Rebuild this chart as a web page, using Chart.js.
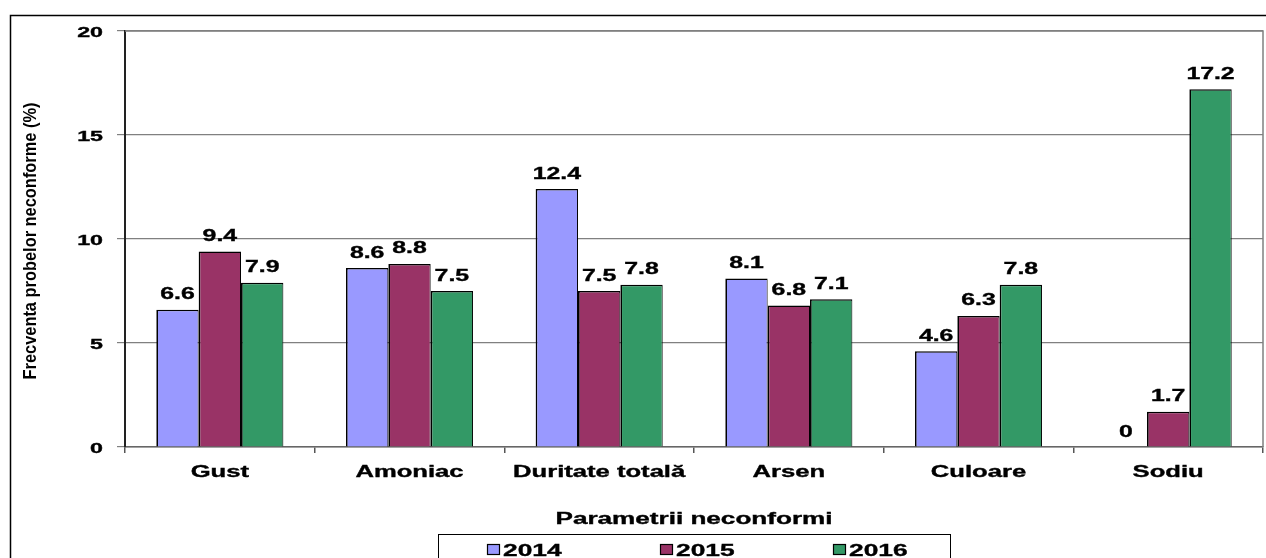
<!DOCTYPE html>
<html>
<head>
<meta charset="utf-8">
<script src="https://cdn.jsdelivr.net/npm/chart.js@4/dist/chart.umd.min.js"></script>
<style>
  body { margin: 0; background: #fff; }
  canvas { display: block; }
</style>
</head>
<body>
<canvas id="grafica" width="1266" height="558"></canvas>
<script>
var categorii = ["Gust", "Amoniac", "Duritate totală", "Arsen", "Culoare", "Sodiu"];
var ani = ["2014", "2015", "2016"];
var valori2014 = [6.6, 8.6, 12.4, 8.1, 4.6, 0];
var valori2015 = [9.4, 8.8, 7.5, 6.8, 6.3, 1.7];
var valori2016 = [7.9, 7.5, 7.8, 7.1, 7.8, 17.2];
var culori = ['#9999FF', '#993366', '#339966'];

var titluY = 'Frecventa probelor neconforme (%)';
var titluX = 'Parametrii neconformi';

// text lat (imaginea originala e intinsa pe orizontala)
function textLat(ctx, text, x, y, font, sx, align) {
    ctx.save();
    ctx.font = font;
    ctx.textBaseline = 'alphabetic';
    ctx.textAlign = 'left';
    var w = ctx.measureText(text).width * sx;
    var left = align === 'center' ? x - w / 2 : (align === 'right' ? x - w : x);
    ctx.translate(left, y);
    ctx.scale(sx, 1);
    ctx.fillStyle = '#000';
    ctx.strokeStyle = '#000';
    ctx.lineWidth = 0.35;
    ctx.fillText(text, 0, 0);
    ctx.strokeText(text, 0, 0);
    ctx.restore();
}

var bold = function (px) { return 'bold ' + px + 'px "Liberation Sans", Arial, sans-serif'; };

var etichete = {
    id: 'etichete',
    beforeDatasetsDraw: function (chart) {
        var ctx = chart.ctx, a = chart.chartArea;
        ctx.save();
        ctx.strokeStyle = '#808080';
        ctx.lineWidth = 1.5;
        ctx.beginPath();
        ctx.moveTo(a.left, a.top);
        ctx.lineTo(a.right, a.top);
        ctx.lineTo(a.right, a.bottom);
        ctx.stroke();
        ctx.restore();
    },
    afterDraw: function (chart) {
        var ctx = chart.ctx, a = chart.chartArea;
        var sy = chart.scales.y, sxs = chart.scales.x;

        // cadru exterior
        ctx.save();
        ctx.strokeStyle = '#000';
        ctx.lineWidth = 1.5;
        ctx.beginPath();
        ctx.moveTo(1266, 15.5);
        ctx.lineTo(10.5, 15.5);
        ctx.lineTo(10.5, 558);
        ctx.stroke();
        ctx.restore();

        // etichete axa Y
        sy.ticks.forEach(function (t) {
            var y = sy.getPixelForValue(t.value);
            textLat(ctx, String(t.value), 103, y + 5.5, bold(15), 1.55, 'right');
        });

        // categorii
        categorii.forEach(function (c, i) {
            textLat(ctx, c, sxs.getPixelForValue(i), 477, bold(16), 1.6, 'center');
        });

        // valori deasupra barelor
        chart.data.datasets.forEach(function (ds, d) {
            var meta = chart.getDatasetMeta(d);
            meta.data.forEach(function (bar, i) {
                textLat(ctx, String(ds.data[i]), bar.x, bar.y - 10.5, bold(16), 1.55, 'center');
            });
        });

        // titlu axa X
        ctx.save();
        ctx.font = bold(16);
        var wx = ctx.measureText(titluX).width;
        ctx.restore();
        textLat(ctx, titluX, (a.left + a.right) / 2, 524, bold(16), 277 / wx, 'center');

        // titlu axa Y (rotit)
        ctx.save();
        ctx.font = bold(19);
        var wy = ctx.measureText(titluY).width;
        ctx.translate(36, (a.top + a.bottom) / 2 + 2);
        ctx.rotate(-Math.PI / 2);
        ctx.scale(277 / wy, 1);
        ctx.textAlign = 'center';
        ctx.textBaseline = 'alphabetic';
        ctx.fillStyle = '#000';
        ctx.fillText(titluY, 0, 0);
        ctx.restore();

        // legenda
        var cx = (a.left + a.right) / 2;
        ctx.save();
        ctx.strokeStyle = '#000';
        ctx.lineWidth = 1;
        ctx.strokeRect(438.5, 534.5, 512, 40);
        ctx.restore();
        chart.data.datasets.forEach(function (ds, d) {
            var x = Math.round(cx - 34 + (d - 1) * 173);
            ctx.save();
            ctx.fillStyle = ds.backgroundColor;
            ctx.fillRect(x, 544, 13, 11);
            ctx.strokeStyle = '#000';
            ctx.lineWidth = 1.2;
            ctx.strokeRect(x + 0.5, 544.5, 12, 10);
            ctx.restore();
            textLat(ctx, ds.label, x + 16, 556, bold(17), 1.55, 'left');
        });
    }
};

var ctx = document.getElementById("grafica").getContext('2d');
var grafica = new Chart(ctx, {
    type: 'bar',
    data: {
        labels: categorii,
        datasets: [
            { label: ani[0], data: valori2014, backgroundColor: culori[0] },
            { label: ani[1], data: valori2015, backgroundColor: culori[1] },
            { label: ani[2], data: valori2016, backgroundColor: culori[2] }
        ]
    },
    options: {
        responsive: false,
        devicePixelRatio: 1,
        animation: false,
        layout: { padding: { left: 117, right: 3, top: 31, bottom: 105 } },
        datasets: {
            bar: {
                borderColor: '#000',
                borderWidth: { top: 1.5, left: 1.7, right: 1, bottom: 0 },
                categoryPercentage: 0.67,
                barPercentage: 1
            }
        },
        plugins: {
            legend: { display: false },
            tooltip: { enabled: false }
        },
        scales: {
            x: {
                ticks: { display: false },
                grid: { drawOnChartArea: false, drawTicks: true, tickLength: 6, color: '#555', lineWidth: 1.5 },
                border: { color: '#666', width: 1.5 }
            },
            y: {
                min: 0,
                max: 20,
                ticks: { display: false, stepSize: 5 },
                grid: { color: '#808080', lineWidth: 1.2, tickLength: 8, tickColor: '#808080' },
                border: { color: '#222', width: 2 }
            }
        }
    },
    plugins: [etichete]
});
</script>
</body>
</html>
